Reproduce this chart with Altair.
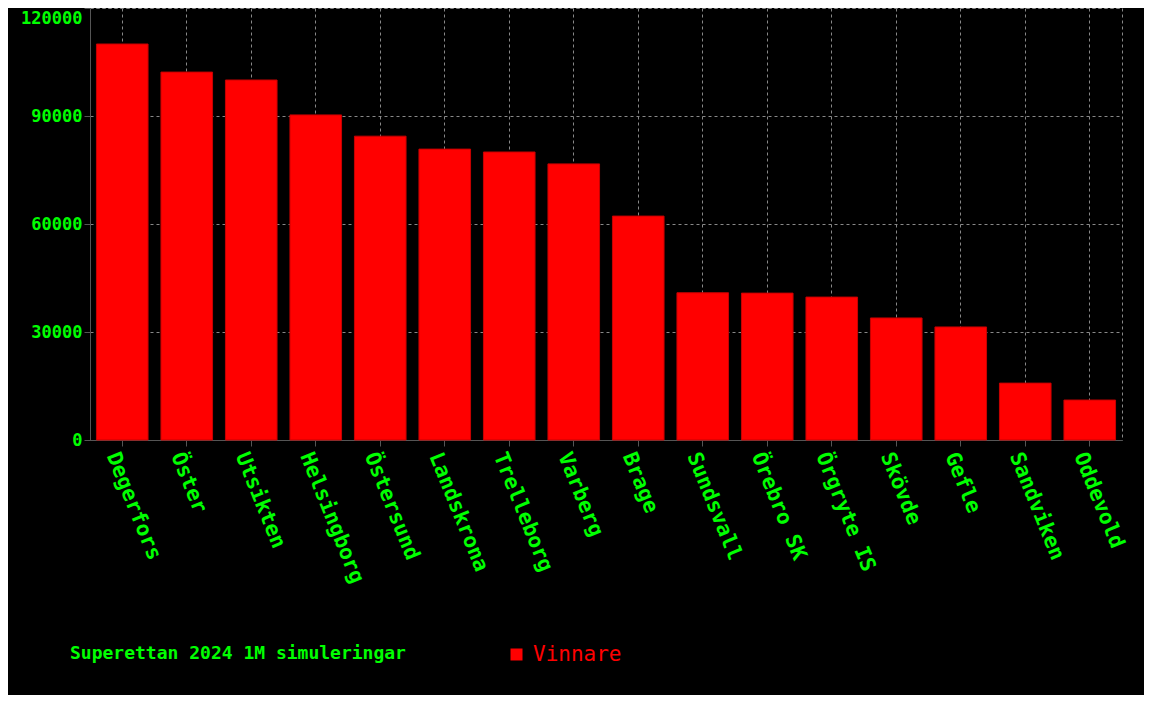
import altair as alt
import pandas as pd

teams = ["Degerfors", "Öster", "Utsikten", "Helsingborg", "Östersund", "Landskrona",
         "Trelleborg", "Varberg", "Brage", "Sundsvall", "Örebro SK", "Örgryte IS",
         "Skövde", "Gefle", "Sandviken", "Oddevold"]
wins = [110000, 102200, 100000, 90300, 84400, 80800, 80000, 76700, 62200,
        40900, 40800, 39700, 33900, 31400, 15800, 11100]
series = ["Vinnare"] * len(teams)
y_ticks = [0, 30000, 60000, 90000, 120000]

df = pd.DataFrame({"team": teams, "wins": wins, "serie": series})

FONT = "DejaVu Sans Mono"
GREEN = "#00ff00"
RED = "#ff0000"

chart = alt.Chart(df).mark_bar(stroke="#c80000", strokeWidth=1).encode(
    x=alt.X("team:N", sort=teams, title=None,
            scale=alt.Scale(paddingInner=0.2, paddingOuter=0.1),
            axis=alt.Axis(labelAngle=68, labelColor=GREEN, labelFont=FONT,
                          labelFontWeight="bold", labelFontSize=21,
                          labelAlign="left", labelBaseline="top",
                          domainColor="#555555", tickColor="#555555", tickSize=6,
                          grid=True, gridColor="#888888", gridDash=[3, 3],
                          labelPadding=3, labelLimit=300)),
    y=alt.Y("wins:Q", title=None,
            scale=alt.Scale(domain=[0, 120000], nice=False),
            axis=alt.Axis(values=y_ticks, format="d", labelColor=GREEN, labelFont=FONT,
                          labelFontWeight="bold", labelFontSize=17,
                          labelBaseline=alt.condition("datum.value == 120000",
                                                      alt.value("top"),
                                                      alt.value("middle")),
                          labelOffset=alt.condition("datum.value == 120000",
                                                    alt.value(2),
                                                    alt.value(0)),
                          domainColor="#555555", tickColor="#555555", tickSize=6,
                          grid=True, gridColor="#888888", gridDash=[3, 3],
                          labelPadding=2, labelFlush=False, labelBound=False)),
    color=alt.Color("serie:N", scale=alt.Scale(domain=["Vinnare"], range=[RED]),
                    legend=alt.Legend(title="Superettan 2024 1M simuleringar",
                                      orient="none", legendX=-20, legendY=636,
                                      direction="horizontal", titleOrient="left",
                                      titleColor=GREEN, titleFont=FONT,
                                      titleFontWeight="bold", titleFontSize=18,
                                      titleLimit=600, titlePadding=100,
                                      labelColor=RED, labelFont=FONT,
                                      labelFontSize=21, labelOffset=6, labelLimit=300,
                                      symbolType="square", symbolSize=144,
                                      symbolStrokeWidth=0, symbolFillColor=RED)),
).properties(
    width=1032, height=432,
    background="#000000",
    padding={"left": 82, "top": 0, "right": 22, "bottom": 255},
    autosize=alt.AutoSizeParams(type="none"),
).configure_view(
    stroke="#888888", strokeDash=[3, 3]
)

chart.save("out.html", embed_options={"renderer": "svg", "actions": False})
